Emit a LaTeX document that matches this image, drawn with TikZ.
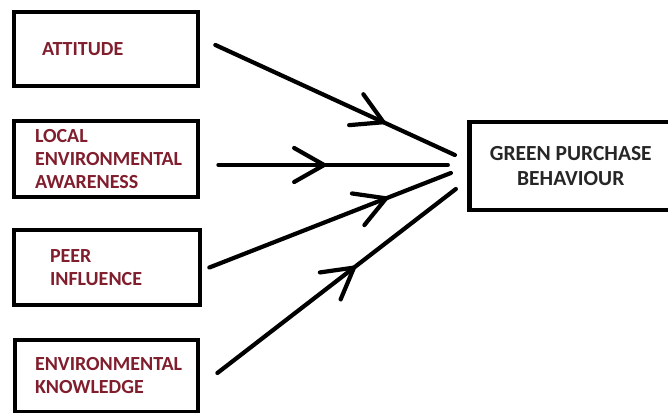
\documentclass[tikz,border=0pt]{standalone}
\usepackage{fontspec}
\setmainfont{Carlito}
\usetikzlibrary{arrows.meta,decorations.markings}
\definecolor{factorred}{RGB}{128,30,45}
\definecolor{outcomegray}{RGB}{38,38,38}
\hyphenpenalty=10000
\tikzset{
  factor/.style={rectangle,draw=black,line width=4.8pt,align=left,text=factorred,
    font=\fontsize{20}{23}\selectfont\bfseries},
  outcome/.style={rectangle,draw=black,line width=4.8pt,align=center,text=outcomegray,
    font=\fontsize{21.5}{25}\selectfont\bfseries},
  barb/.tip={Straight Barb[length=30pt,width=34pt,round]},
  flow/.style={line width=4.2pt,line cap=round,postaction={decorate},
    decoration={markings,mark=at position #1 with {\arrow{barb}}}}
}

\begin{document}
\begin{tikzpicture}[x=1pt,y=-1pt]
% \draw[help lines] (0,0) grid (668,412);
\useasboundingbox (0,0) rectangle (668,412);
\node (att) [factor,minimum width=184pt,minimum height=74pt,inner xsep=28pt,text width=128pt] at (106,49) {ATTITUDE};
\node (loc) [factor,minimum width=184pt,minimum height=76pt,inner xsep=21pt,text width=142pt] at (106,159) {LOCAL\\ENVIRONMENTAL\\AWARENESS};
\node (peer) [factor,minimum width=186pt,minimum height=75pt,inner xsep=36pt,text width=114pt] at (107,267.5) {PEER\\INFLUENCE};
\node (know) [factor,minimum width=183pt,minimum height=72pt,inner xsep=20pt,text width=143pt] at (106.5,376) {ENVIRONMENTAL\\KNOWLEDGE};
\node (gpb) [outcome,minimum width=203pt,minimum height=88pt] at (570.75,166) {GREEN PURCHASE\\BEHAVIOUR};
%
\draw[flow=0.71] ([xshift=15pt,yshift=4pt]att.east) -- ([xshift=-12pt,yshift=11pt]gpb.west);
\draw[flow=0.47] ([xshift=18pt,yshift=-6pt]loc.east) -- ([xshift=-19pt,yshift=1pt]gpb.west);
\draw[flow=0.74] ([xshift=7pt]peer.east) -- ([xshift=-16pt,yshift=-7pt]gpb.west);
\draw[flow=0.58] ([xshift=17pt,yshift=3pt]know.east) -- ([xshift=-11pt,yshift=-23pt]gpb.west);
%
\end{tikzpicture}
\end{document}
